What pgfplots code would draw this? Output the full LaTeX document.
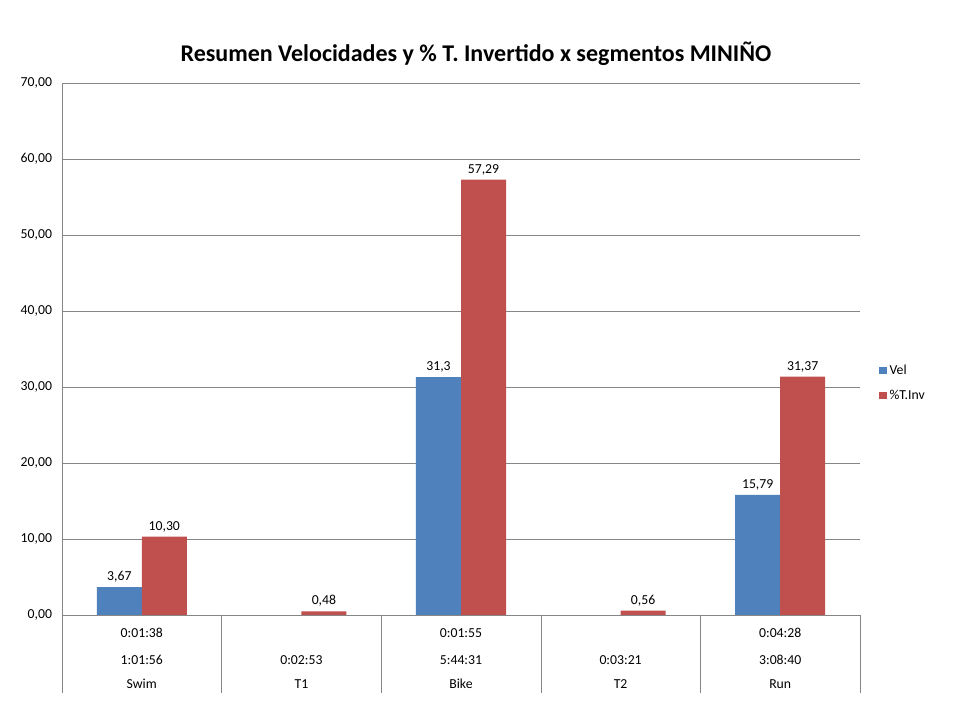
\documentclass[border=0pt]{standalone}
\usepackage{fontspec}
\setmainfont{Carlito}
\usepackage{pgfplots}
\pgfplotsset{compat=1.18}
\definecolor{velblue}{HTML}{4F81BD}
\definecolor{invred}{HTML}{C0504D}
\definecolor{gridgray}{HTML}{868686}

\begin{document}
\begin{tikzpicture}
\path[use as bounding box] (0,0) rectangle (720pt,540pt);
\node[font=\fontsize{18}{20}\selectfont\bfseries] at (357pt,500pt)
  {Resumen Velocidades y \% T. Invertido x segmentos MINIÑO};
\begin{axis}[at={(46.5pt,78.75pt)}, anchor=south west,
  scale only axis, width=598.5pt, height=399pt,
  xmin=-0.5, xmax=4.5, ymin=0, ymax=70,
  ytick={0,10,...,70}, xtick=\empty,
  axis lines*=left, axis line style={gridgray},
  ymajorgrids, grid style={gridgray},
  major tick length=0pt,
  clip=false,
  ybar=0pt, bar width=0.282,
  /pgf/number format/.cd, use comma, fixed, fixed zerofill, precision=2,
  assume math mode=true, /pgfplots/.cd,
  ticklabel style={font=\fontsize{10.3}{12}\selectfont},
  yticklabel style={xshift=-4pt},
  nodes near coords style={font=\fontsize{10.3}{12}\selectfont, text=black},
  legend style={draw=none, at={(1.019,0.436)}, anchor=west,
    font=\fontsize{10.3}{12}\selectfont, row sep=6pt},
  legend cell align=left,
  legend image code/.code={\fill[#1] (0pt,-2.8pt) rectangle (5.6pt,2.8pt);},
]
% Vel
\addplot[fill=velblue, draw=none,
  nodes near coords={\pgfmathprintnumber[fixed,fixed zerofill=false,precision=2,use comma]{\pgfplotspointmeta}}]
  coordinates {(0,3.67) (2,31.3) (4,15.79)};
% %T.Inv
\addplot[fill=invred, draw=none,
  nodes near coords={\pgfmathprintnumber[fixed,fixed zerofill,precision=2,use comma]{\pgfplotspointmeta}}]
  coordinates {(0,10.30) (1,0.48) (2,57.29) (3,0.56) (4,31.37)};
\addlegendentry{Vel}
\addlegendentry{\%T.Inv}
% tabla inferior
\draw[gridgray] (axis cs:-0.5,0) -- (axis cs:-0.5,-10.26);
\draw[gridgray] (axis cs:0.5,0) -- (axis cs:0.5,-10.26);
\draw[gridgray] (axis cs:1.5,0) -- (axis cs:1.5,-10.26);
\draw[gridgray] (axis cs:2.5,0) -- (axis cs:2.5,-10.26);
\draw[gridgray] (axis cs:3.5,0) -- (axis cs:3.5,-10.26);
\draw[gridgray] (axis cs:4.5,0) -- (axis cs:4.5,-10.26);
\begin{scope}[every node/.style={font=\fontsize{10.3}{12}\selectfont}]
\node at (axis cs:0,-2.37) {0:01:38};
\node at (axis cs:2,-2.37) {0:01:55};
\node at (axis cs:4,-2.37) {0:04:28};
\node at (axis cs:0,-5.92) {1:01:56};
\node at (axis cs:1,-5.92) {0:02:53};
\node at (axis cs:2,-5.92) {5:44:31};
\node at (axis cs:3,-5.92) {0:03:21};
\node at (axis cs:4,-5.92) {3:08:40};
\node at (axis cs:0,-9.08) {Swim};
\node at (axis cs:1,-9.08) {T1};
\node at (axis cs:2,-9.08) {Bike};
\node at (axis cs:3,-9.08) {T2};
\node at (axis cs:4,-9.08) {Run};
\end{scope}
\end{axis}
\end{tikzpicture}
\end{document}
